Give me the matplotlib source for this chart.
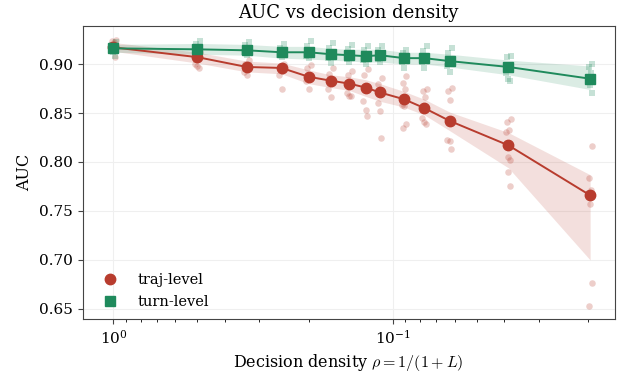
import numpy as np
import matplotlib
matplotlib.use("Agg")
import matplotlib.pyplot as plt

plt.rcParams['font.family'] = 'DejaVu Serif'
plt.rcParams['mathtext.fontset'] = 'cm'

# lookback lengths L, density rho = 1/(1+L)
L = [0, 1, 2, 3, 4, 5, 6, 7, 8, 10, 12, 15, 25, 50]

traj_mean = [0.917, 0.907, 0.897, 0.896, 0.887, 0.883, 0.880, 0.876, 0.871,
             0.864, 0.855, 0.842, 0.817, 0.766]
traj_lo = [0.913, 0.901, 0.892, 0.890, 0.880, 0.876, 0.873, 0.867, 0.862,
           0.856, 0.848, 0.832, 0.794, 0.700]
traj_hi = [0.922, 0.912, 0.903, 0.901, 0.894, 0.889, 0.887, 0.884, 0.880,
           0.872, 0.864, 0.851, 0.830, 0.787]

turn_mean = [0.916, 0.915, 0.914, 0.912, 0.912, 0.910, 0.909, 0.908, 0.909,
             0.906, 0.906, 0.903, 0.897, 0.885]
turn_lo = [0.912, 0.910, 0.909, 0.906, 0.905, 0.904, 0.903, 0.902, 0.902,
           0.900, 0.900, 0.897, 0.889, 0.874]
turn_hi = [0.920, 0.921, 0.920, 0.918, 0.918, 0.916, 0.915, 0.915, 0.915,
           0.912, 0.912, 0.910, 0.904, 0.898]

# per-seed values
traj_pts = [
    [0.925, 0.924, 0.922, 0.919, 0.915, 0.907],
    [0.912, 0.909, 0.905, 0.900, 0.898, 0.896],
    [0.904, 0.900, 0.896, 0.892, 0.889],
    [0.900, 0.897, 0.893, 0.889, 0.874],
    [0.899, 0.896, 0.888, 0.883, 0.875],
    [0.896, 0.890, 0.884, 0.875, 0.866],
    [0.893, 0.889, 0.882, 0.870, 0.867, 0.867],
    [0.895, 0.889, 0.878, 0.862, 0.853, 0.847],
    [0.886, 0.880, 0.873, 0.860, 0.852, 0.824],
    [0.888, 0.881, 0.874, 0.858, 0.857, 0.839, 0.835],
    [0.874, 0.872, 0.866, 0.845, 0.841, 0.839],
    [0.876, 0.872, 0.863, 0.822, 0.821, 0.813],
    [0.844, 0.841, 0.833, 0.831, 0.805, 0.802, 0.790, 0.776],
    [0.816, 0.784, 0.771, 0.768, 0.757, 0.676, 0.653],
]
turn_pts = [
    [0.922, 0.919, 0.917, 0.914, 0.912, 0.908],
    [0.923, 0.920, 0.917, 0.914, 0.911, 0.909],
    [0.922, 0.919, 0.915, 0.912, 0.909],
    [0.920, 0.916, 0.912, 0.909, 0.907],
    [0.923, 0.918, 0.912, 0.908, 0.906],
    [0.921, 0.916, 0.911, 0.906, 0.901],
    [0.919, 0.915, 0.909, 0.905, 0.902],
    [0.918, 0.914, 0.909, 0.904, 0.900],
    [0.918, 0.914, 0.910, 0.905, 0.902],
    [0.914, 0.911, 0.906, 0.902, 0.896],
    [0.918, 0.913, 0.907, 0.902, 0.896],
    [0.916, 0.911, 0.904, 0.898, 0.892],
    [0.908, 0.907, 0.898, 0.891, 0.885, 0.883],
    [0.900, 0.897, 0.891, 0.886, 0.879, 0.870],
]

RED = '#b83c2e'
GREEN = '#1f8a5c'
jitter = [-0.008, 0.005, -0.003, 0.008, 0.0, -0.005, 0.003, -0.007]

rho = np.array([1.0 / (1 + l) for l in L])

fig = plt.figure(figsize=(6.21, 3.77), dpi=100)
ax = fig.add_axes([0.133, 0.154, 0.857, 0.777])

for pts, col, mk in [(traj_pts, RED, 'o'), (turn_pts, GREEN, 's')]:
    for r, vals in zip(rho, pts):
        xs = [r * 10 ** jitter[i % len(jitter)] for i in range(len(vals))]
        ax.scatter(xs, vals, s=22, marker=mk, color=col, alpha=0.25,
                   linewidths=0, zorder=2)

ax.fill_between(rho, traj_lo, traj_hi, color=RED, alpha=0.16, linewidth=0, zorder=1)
ax.fill_between(rho, turn_lo, turn_hi, color=GREEN, alpha=0.16, linewidth=0, zorder=1)

ax.plot(rho, traj_mean, color=RED, marker='o', markersize=7.5, linewidth=1.4,
        label='traj-level', zorder=4)
ax.plot(rho, turn_mean, color=GREEN, marker='s', markersize=7.5, linewidth=1.4,
        label='turn-level', zorder=5)

ax.set_xscale('log')
ax.set_xlim(1.29, 0.016)
ax.set_ylim(0.6398, 0.9388)
ax.set_yticks([0.65, 0.70, 0.75, 0.80, 0.85, 0.90])
ax.grid(True, which='major', color='#efefef', linewidth=0.8)
ax.set_axisbelow(True)
for sp in ax.spines.values():
    sp.set_color('#444444')
ax.tick_params(labelsize=11, color='#444444')

ax.set_title('AUC vs decision density', fontsize=13)
ax.set_xlabel(r'Decision density $\rho = 1/(1+L)$', fontsize=11.5)
ax.set_ylabel('AUC', fontsize=11.5)

leg = ax.legend(loc='lower left', bbox_to_anchor=(0.01, -0.01), frameon=False,
                fontsize=10.5, handlelength=1.2, handletextpad=1.3)
for h in leg.legend_handles:
    h.set_linestyle('none')

fig.savefig('out.png', dpi=100)
